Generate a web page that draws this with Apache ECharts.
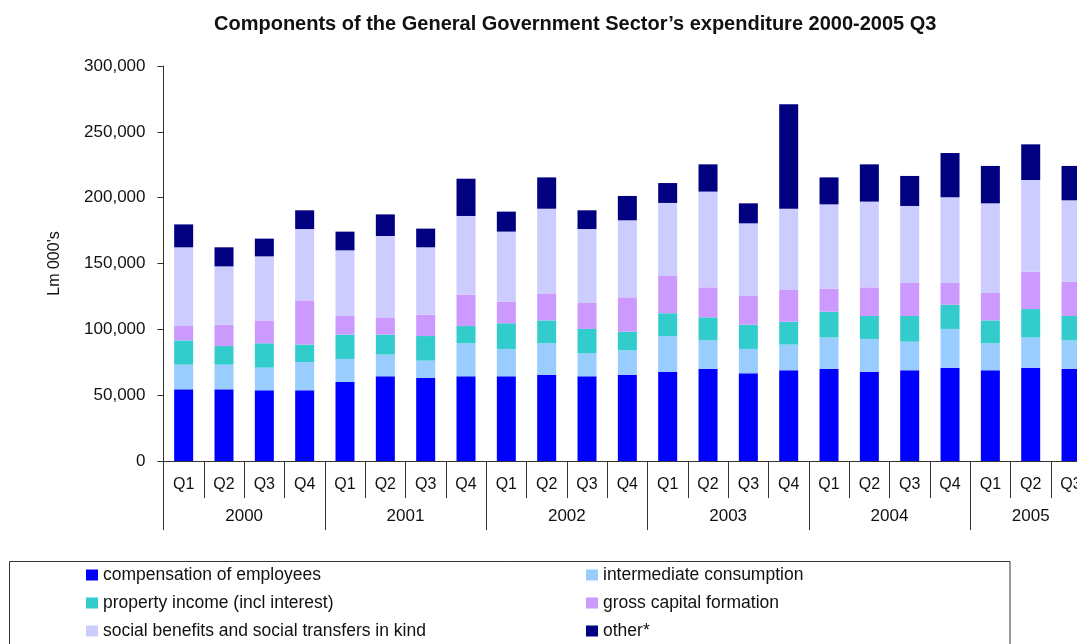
<!DOCTYPE html>
<html>
<head>
<meta charset="utf-8">
<title>General Government Sector expenditure</title>
<script src="https://cdn.jsdelivr.net/npm/echarts@6/dist/echarts.min.js"></script>
<style>
  html, body { margin: 0; padding: 0; background: #fff; }
  #chart { width: 1077px; height: 644px; }
</style>
</head>
<body>
<div id="chart"></div>
<script>
// categories (year + quarter)
const categories = [
  '2000 Q1', '2000 Q2', '2000 Q3', '2000 Q4',
  '2001 Q1', '2001 Q2', '2001 Q3', '2001 Q4',
  '2002 Q1', '2002 Q2', '2002 Q3', '2002 Q4',
  '2003 Q1', '2003 Q2', '2003 Q3', '2003 Q4',
  '2004 Q1', '2004 Q2', '2004 Q3', '2004 Q4',
  '2005 Q1', '2005 Q2', '2005 Q3'
]

// Lm 000's
const compensation = [54400, 54400, 53700, 53700, 60000, 64300, 63300, 64300, 64300, 65600, 64300, 65600, 67800, 69900, 66600, 68900, 69900, 67800, 68900, 70900, 68900, 70900, 69900]
const intermediate = [18800, 18800, 17200, 21500, 17500, 16500, 12900, 25100, 20800, 23800, 17500, 18500, 27100, 21700, 18500, 19500, 24000, 24900, 21700, 29400, 20500, 23000, 21700]
const propertyIncome = [18400, 14100, 18500, 13200, 18500, 15200, 18700, 13100, 19500, 17400, 18500, 14100, 17300, 17500, 18400, 17400, 19500, 17400, 19500, 18400, 17400, 21500, 18500]
const capitalFormation = [10900, 16200, 17400, 33600, 14100, 13100, 16200, 23800, 16400, 20500, 19700, 26100, 28300, 22800, 21800, 24100, 17500, 21800, 25100, 16500, 20800, 28400, 26100]
const socialBenefits = [59800, 44300, 48600, 54200, 49900, 61800, 51200, 59800, 53200, 64300, 56200, 58500, 55500, 72700, 55200, 61700, 64000, 65100, 58500, 65100, 68100, 69600, 61800]
const other = [17400, 14500, 13500, 14200, 14200, 16400, 14200, 28300, 15200, 23800, 14200, 18500, 15100, 20700, 15200, 79300, 20500, 28300, 22800, 33600, 28400, 27100, 26100]

const yTicks = { min: 0, max: 300000, step: 50000 }

const seriesList = [
  { name: 'compensation of employees', data: compensation, color: '#0000ff' },
  { name: 'intermediate consumption', data: intermediate, color: '#99ccff' },
  { name: 'property income (incl interest)', data: propertyIncome, color: '#33cccc' },
  { name: 'gross capital formation', data: capitalFormation, color: '#cc99ff' },
  { name: 'social benefits and social transfers in kind', data: socialBenefits, color: '#ccccff' },
  { name: 'other*', data: other, color: '#000080' }
]

const font = "'Liberation Sans', Arial, sans-serif"
const axisColor = '#333'

const yearOf = c => c.split(' ')[0]
const quarterOf = c => c.split(' ')[1]

// how many quarters each year has (2005 only has three)
const groupSize = {}
categories.forEach(c => { groupSize[yearOf(c)] = (groupSize[yearOf(c)] || 0) + 1 })

function withCommas(v) {
  return String(v).replace(/\B(?=(\d{3})+(?!\d))/g, ',')
}

const chart = echarts.init(document.getElementById('chart'))

chart.setOption({
  backgroundColor: '#fff',
  animation: false,
  textStyle: { fontFamily: font },
  title: {
    text: 'Components of the General Government Sector\u2019s expenditure 2000-2005 Q3',
    left: 214,
    top: 14,
    padding: 0,
    textStyle: { fontFamily: font, fontSize: 20, fontWeight: 'bold', color: '#111' }
  },
  grid: {
    left: 163.5,
    top: 66,
    width: 927.7,
    height: 395,
    containLabel: false,
    outerBoundsMode: 'none'
  },
  legend: [
    {
      data: [seriesList[0].name, seriesList[2].name, seriesList[4].name],
      orient: 'vertical',
      left: 86,
      top: 566,
      padding: 0,
      itemWidth: 12,
      itemHeight: 11,
      itemGap: 10,
      icon: 'rect',
      selectedMode: false,
      textStyle: { fontFamily: font, fontSize: 17.5, lineHeight: 18, color: '#111' }
    },
    {
      data: [seriesList[1].name, seriesList[3].name, seriesList[5].name],
      orient: 'vertical',
      left: 586,
      top: 566,
      padding: 0,
      itemWidth: 12,
      itemHeight: 11,
      itemGap: 10,
      icon: 'rect',
      selectedMode: false,
      textStyle: { fontFamily: font, fontSize: 17.5, lineHeight: 18, color: '#111' }
    }
  ],
  // legend frame
  graphic: [
    {
      type: 'rect',
      shape: { x: 9.5, y: 561.5, width: 1000.5, height: 120 },
      style: { fill: 'none', stroke: axisColor, lineWidth: 1 },
      silent: true
    }
  ],
  xAxis: [
    {
      type: 'category',
      data: categories,
      position: 'bottom',
      axisLine: { lineStyle: { color: axisColor, width: 1 } },
      axisTick: { show: true, interval: 0, length: 37, lineStyle: { color: axisColor } },
      axisLabel: {
        interval: 0,
        margin: 16,
        fontSize: 16,
        color: '#111',
        formatter: v => quarterOf(v)
      },
      splitLine: { show: false }
    },
    {
      // year row underneath the quarters
      type: 'category',
      data: categories,
      position: 'bottom',
      offset: 0,
      axisLine: { show: false },
      axisTick: {
        show: true,
        length: 69,
        interval: idx => idx % 4 === 0,
        lineStyle: { color: axisColor }
      },
      axisLabel: {
        margin: 47,
        fontSize: 17,
        color: '#111',
        interval: idx => idx % 4 === 1,
        formatter: v => {
          const y = yearOf(v)
          // four-quarter years sit between Q2 and Q3
          return groupSize[y] === 4 ? '{s|' + y + '}' : '{c|' + y + '}'
        },
        rich: {
          s: { fontFamily: font, fontSize: 17, color: '#111', padding: [0, 0, 0, 40.3] },
          c: { fontFamily: font, fontSize: 17, color: '#111' }
        }
      },
      splitLine: { show: false }
    }
  ],
  yAxis: {
    type: 'value',
    min: yTicks.min,
    max: yTicks.max,
    interval: yTicks.step,
    name: "Lm 000's",
    nameLocation: 'middle',
    nameGap: 101,
    nameTextStyle: { fontFamily: font, fontSize: 16, color: '#111' },
    axisLine: { show: true, lineStyle: { color: axisColor, width: 1 } },
    axisTick: { show: true, length: 6, lineStyle: { color: axisColor } },
    axisLabel: {
      margin: 18,
      fontSize: 17,
      color: '#111',
      formatter: v => withCommas(v)
    },
    splitLine: { show: false }
  },
  series: seriesList.map(s => ({
    name: s.name,
    type: 'bar',
    stack: 'total',
    barWidth: 19,
    data: s.data,
    itemStyle: { color: s.color },
    emphasis: { disabled: true }
  }))
})
</script>
</body>
</html>
